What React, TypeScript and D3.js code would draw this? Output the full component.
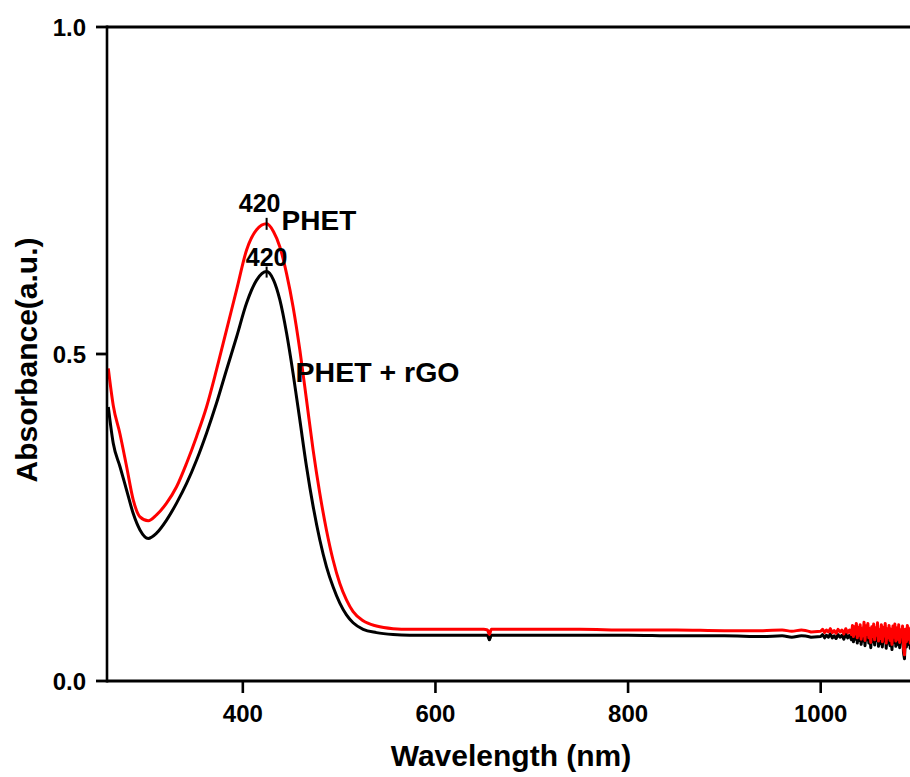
import React from "react";
import * as d3 from "d3";

// ---- data ----
const phetWl = [260.3, 265.5, 272.4, 279.3, 286.2, 293.2, 301.8, 310.4, 320.8, 331.2, 341.6, 352, 362.3, 372.7, 383.1, 393.5, 403.9, 414.3, 424.7, 431.9, 438.4, 445.4, 452.2, 459.2, 466.1, 473, 479.9, 486.8, 493.7, 500.7, 507.6, 514.5, 524.9, 538.7, 556, 573.3, 600, 650, 654, 656, 658, 700, 750, 800, 850, 900, 940, 960, 970, 980, 990];
const phetAbs = [0.478, 0.421, 0.378, 0.328, 0.277, 0.251, 0.245, 0.254, 0.272, 0.297, 0.333, 0.374, 0.419, 0.476, 0.537, 0.598, 0.659, 0.69, 0.699, 0.687, 0.664, 0.623, 0.572, 0.506, 0.43, 0.353, 0.287, 0.231, 0.185, 0.149, 0.124, 0.106, 0.092, 0.084, 0.08, 0.079, 0.079, 0.079, 0.078, 0.071, 0.079, 0.079, 0.079, 0.078, 0.078, 0.077, 0.077, 0.078, 0.076, 0.078, 0.075];

const rgoWl = [260.3, 265.5, 272.4, 279.3, 286.2, 293.2, 301.8, 310.4, 320.8, 331.2, 341.6, 352, 362.3, 372.7, 383.1, 393.5, 403.9, 414.3, 424.7, 431.9, 438.4, 445.4, 452.2, 459.2, 466.1, 473, 479.9, 486.8, 493.7, 500.7, 507.6, 514.5, 524.9, 538.7, 556, 573.3, 600, 650, 654, 656, 658, 700, 750, 800, 850, 900, 940, 960, 970, 980, 990];
const rgoAbs = [0.419, 0.363, 0.328, 0.292, 0.256, 0.231, 0.218, 0.226, 0.246, 0.272, 0.302, 0.338, 0.379, 0.425, 0.476, 0.526, 0.578, 0.613, 0.626, 0.613, 0.583, 0.532, 0.47, 0.399, 0.328, 0.267, 0.216, 0.175, 0.144, 0.119, 0.101, 0.089, 0.079, 0.074, 0.071, 0.07, 0.07, 0.07, 0.07, 0.063, 0.07, 0.07, 0.07, 0.07, 0.069, 0.069, 0.068, 0.069, 0.067, 0.069, 0.067];

// noisy NIR tail, 1000–1100 nm
const tailWl = [1000, 1002, 1004, 1006, 1008, 1010, 1012, 1014, 1016, 1018, 1020, 1022, 1024, 1026, 1028, 1030, 1032, 1033, 1034, 1035, 1036, 1037, 1038, 1039, 1040, 1041, 1042, 1043, 1044, 1045, 1046, 1047, 1048, 1049, 1050, 1051, 1052, 1053, 1054, 1055, 1056, 1057, 1058, 1059, 1060, 1061, 1062, 1063, 1064, 1065, 1066, 1067, 1068, 1069, 1070, 1071, 1072, 1073, 1074, 1075, 1076, 1077, 1078, 1079, 1080, 1081, 1082, 1083, 1084, 1085, 1086, 1087, 1088, 1089, 1090, 1091, 1092, 1093, 1094, 1095, 1096, 1097, 1098, 1099, 1100];
const phetTail = [0.076, 0.079, 0.074, 0.078, 0.075, 0.08, 0.074, 0.077, 0.073, 0.079, 0.075, 0.078, 0.072, 0.08, 0.074, 0.078, 0.071, 0.085, 0.068, 0.083, 0.072, 0.088, 0.066, 0.082, 0.07, 0.086, 0.064, 0.079, 0.069, 0.09, 0.062, 0.084, 0.071, 0.088, 0.066, 0.08, 0.059, 0.083, 0.068, 0.087, 0.063, 0.081, 0.07, 0.089, 0.061, 0.078, 0.065, 0.086, 0.06, 0.082, 0.069, 0.088, 0.058, 0.08, 0.066, 0.085, 0.062, 0.079, 0.056, 0.084, 0.067, 0.087, 0.061, 0.081, 0.064, 0.086, 0.059, 0.078, 0.068, 0.084, 0.05, 0.04, 0.079, 0.06, 0.085, 0.064, 0.08, 0.058, 0.083, 0.062, 0.079, 0.057, 0.082, 0.065, 0.078];
const rgoTail = [0.068, 0.071, 0.066, 0.07, 0.067, 0.072, 0.066, 0.069, 0.065, 0.071, 0.067, 0.07, 0.064, 0.072, 0.066, 0.07, 0.063, 0.077, 0.06, 0.075, 0.064, 0.08, 0.058, 0.074, 0.062, 0.078, 0.056, 0.071, 0.061, 0.082, 0.054, 0.076, 0.063, 0.08, 0.058, 0.072, 0.051, 0.075, 0.06, 0.079, 0.055, 0.073, 0.062, 0.081, 0.053, 0.07, 0.057, 0.078, 0.052, 0.074, 0.061, 0.08, 0.05, 0.072, 0.058, 0.077, 0.054, 0.071, 0.048, 0.076, 0.059, 0.079, 0.053, 0.073, 0.056, 0.078, 0.051, 0.07, 0.06, 0.076, 0.043, 0.034, 0.071, 0.052, 0.077, 0.056, 0.072, 0.05, 0.075, 0.054, 0.071, 0.049, 0.074, 0.057, 0.07];

const xTicks = [400, 600, 800, 1000];
const yTicks = [0.0, 0.5, 1.0];
const yTickLabels = ["0.0", "0.5", "1.0"];
const peakLabel = "420";
const peakWl = 424.7;
const phetPeak = 0.699;
const rgoPeak = 0.626;

const W = 910;
const H = 777;
const FONT = "'Liberation Sans', Arial, Helvetica, sans-serif";

export default function App() {
  const x = d3.scaleLinear().domain([260, 1100]).range([108, 917]);
  const y = d3.scaleLinear().domain([0, 1]).range([681, 27]);

  const smooth = d3
    .line<[number, number]>()
    .x((d) => x(d[0]))
    .y((d) => y(d[1]))
    .curve(d3.curveMonotoneX);
  const raw = d3
    .line<[number, number]>()
    .x((d) => x(d[0]))
    .y((d) => y(d[1]));

  const zip = (a: number[], b: number[]) => a.map((v, i) => [v, b[i]] as [number, number]);
  const phetMain = zip(phetWl, phetAbs);
  const rgoMain = zip(rgoWl, rgoAbs);
  const phetT = zip(tailWl, phetTail);
  const rgoT = zip(tailWl, rgoTail);
  const phetPath = smooth(phetMain)! + raw([phetMain[phetMain.length - 1], ...phetT])!.replace(/^M/, "L");
  const rgoPath = smooth(rgoMain)! + raw([rgoMain[rgoMain.length - 1], ...rgoT])!.replace(/^M/, "L");

  const x0 = x.range()[0] - 1;
  const y0 = y(0);
  const yTop = y(1);

  return (
    <svg
      width={W}
      height={H}
      style={{ position: "absolute", left: 0, top: 0, background: "#fff" }}
      fontFamily={FONT}
      fontWeight="bold"
    >
      <defs>
        <clipPath id="plot">
          <rect x={x0} y={yTop} width={W - x0} height={y0 - yTop} />
        </clipPath>
      </defs>
      <g clipPath="url(#plot)" fill="none" strokeWidth={3} strokeLinejoin="round">
        <path d={rgoPath} stroke="#000" />
        <path d={phetPath} stroke="#ff0000" />
      </g>

      {/* axes */}
      <line x1={x0} x2={W} y1={y0} y2={y0} stroke="#000" strokeWidth={2.8} />
      <line x1={x0} x2={W} y1={yTop} y2={yTop} stroke="#000" strokeWidth={2.8} />
      <line x1={x0} x2={x0} y1={yTop - 1.4} y2={y0 + 1.4} stroke="#000" strokeWidth={2.6} />

      {xTicks.map((t) => (
        <g key={t}>
          <line x1={x(t)} x2={x(t)} y1={y0} y2={y0 + 12} stroke="#000" strokeWidth={2.6} />
          <text x={x(t)} y={y0 + 41} textAnchor="middle" fontSize={24}>
            {t}
          </text>
        </g>
      ))}
      {yTicks.map((t, i) => (
        <g key={t}>
          <line x1={x0 - 11} x2={x0} y1={y(t)} y2={y(t)} stroke="#000" strokeWidth={2.8} />
          <text x={x0 - 21} y={y(t) + 8.5} textAnchor="end" fontSize={24}>
            {yTickLabels[i]}
          </text>
        </g>
      ))}

      <text x={511} y={766} textAnchor="middle" fontSize={30}>
        Wavelength (nm)
      </text>
      <text transform={`translate(37,360) rotate(-90)`} textAnchor="middle" fontSize={30}>
        Absorbance(a.u.)
      </text>

      {/* peak markers & annotations */}
      <line x1={x(peakWl)} x2={x(peakWl)} y1={y(phetPeak) - 6} y2={y(phetPeak) + 6} stroke="#000" strokeWidth={2} />
      <line x1={x(peakWl)} x2={x(peakWl)} y1={y(rgoPeak) - 5} y2={y(rgoPeak) + 6} stroke="#000" strokeWidth={2} />
      <text x={x(peakWl) - 7} y={y(phetPeak) - 12} textAnchor="middle" fontSize={25}>
        {peakLabel}
      </text>
      <text x={x(peakWl)} y={y(rgoPeak) - 6} textAnchor="middle" fontSize={25}>
        {peakLabel}
      </text>
      <text x={x(peakWl) + 15} y={y(phetPeak) + 6} fontSize={28}>
        PHET
      </text>
      <text x={x(peakWl) + 29} y={382} fontSize={28.5}>
        PHET + rGO
      </text>
    </svg>
  );
}
